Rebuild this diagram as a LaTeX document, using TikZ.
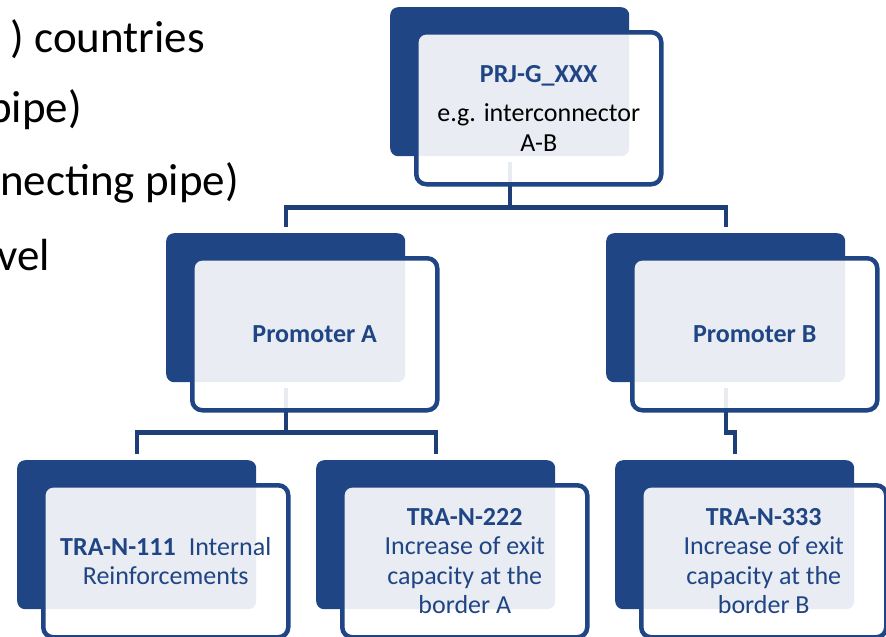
\documentclass[tikz,border=0pt]{standalone}
\usepackage{fontspec}
\setmainfont{Carlito}
\definecolor{boxblue}{RGB}{31,69,132}
\definecolor{lineblue}{RGB}{30,62,120}
\begin{document}
\begin{tikzpicture}[x=1pt,y=-1pt,
		back/.style={fill=boxblue,rounded corners=8pt,inner sep=0pt,minimum width=239pt,minimum height=149pt,anchor=north west},
		front/.style={draw=boxblue,line width=4.5pt,fill=white,fill opacity=0.9,text opacity=1,rounded corners=10pt,inner sep=0pt,minimum width=245pt,minimum height=152pt,anchor=north west,align=center,text=boxblue,font=\fontsize{26}{29.5}\selectfont},
		conn/.style={draw=lineblue,line width=4.3pt,shorten <=6pt,shorten >=6pt},
		side/.style={anchor=base east,inner sep=0pt,font=\fontsize{45}{54}\selectfont}]
			\useasboundingbox (0,0) rectangle (886,637);
			\clip (0,0) rectangle (886,637);
			\node[side] (cut1) at (205,52) {) countries};
			\node[side] (cut2) at (82,122) {pipe)};
			\node[side] (cut3) at (239,195) {necting pipe)};
			\node[side] (cut4) at (50,270) {vel};
			\node[back] (prj) at (390,7) {};
			\node[back] (proA) at (166,233) {};
			\node[back] (proB) at (606,233) {};
			\node[back] (traA) at (17,460) {};
			\node[back] (traB) at (316,460) {};
			\node[back] (traC) at (615,460) {};
			\draw[conn] (prj.south) -- ++(0,51) -| (proA.north);
			\draw[conn] (prj.south) -- ++(0,51) -| (proB.north);
			\draw[conn] (proA.south) -- ++(0,50) -| (traA.north);
			\draw[conn] (proA.south) -- ++(0,50) -| (traB.north);
			\draw[conn] (proB.south) -- ++(0,50) -| (traC.north);
			\node[front] (prjF) at ([shift={(24,23)}]prj.north west) {\textbf{PRJ-G\_XXX}\\[10pt]\textcolor{black}{e.g. interconnector}\\\textcolor{black}{A-B}};
			\node[front] (proAF) at ([shift={(24,23)}]proA.north west) {\textbf{Promoter A}};
			\node[front] (proBF) at ([shift={(24,23)}]proB.north west) {\textbf{Promoter B}};
			\node[front] (traAF) at ([shift={(24,23)}]traA.north west) {\textbf{TRA-N-111}\hspace{0.5em}Internal\\Reinforcements};
			\node[front] (traBF) at ([shift={(24,23)}]traB.north west) {\textbf{TRA-N-222}\\Increase of exit\\capacity at the\\border A};
			\node[front] (traCF) at ([shift={(24,23)}]traC.north west) {\textbf{TRA-N-333}\\Increase of exit\\capacity at the\\border B};
		\end{tikzpicture}
\end{document}
